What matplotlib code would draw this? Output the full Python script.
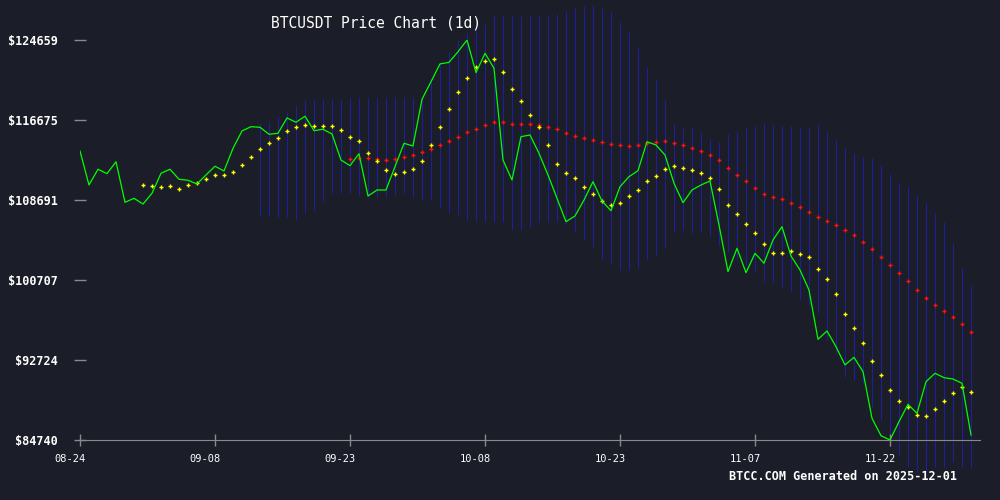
import matplotlib
matplotlib.use("Agg")
import matplotlib.pyplot as plt
import matplotlib.dates as mdates
from matplotlib.transforms import ScaledTranslation
import pandas as pd

# daily closes, 2025-08-24 .. 2025-12-01
close = [113580, 110190, 111760, 111320, 112510, 108460, 108860, 108290, 109360, 111360,
         111760, 110760, 110660, 110290, 111190, 112060, 111590, 113850, 115580, 116010,
         115950, 115250, 115350, 116880, 116450, 117050, 115610, 115750, 115280, 112680,
         112120, 113310, 109090, 109690, 109690, 112020, 114350, 114080, 118740, 120500,
         122270, 122430, 123490, 124659, 121400, 123330, 121840, 112680, 110690, 115010,
         115180, 113350, 111190, 108860, 106530, 107100, 108690, 110520, 108590, 107620,
         110020, 111020, 111620, 114510, 114180, 113180, 110360, 108420, 109690, 110190,
         110590, 106200, 101540, 103870, 101440, 103370, 102380, 104700, 106030, 103100,
         101710, 99710, 94790, 95620, 94050, 92230, 92990, 91560, 86910, 85170,
         84740, 86570, 88300, 87400, 90560, 91400, 90960, 90830, 90400, 85240]

# short moving average (from day 7)
ma_short = [110190, 110090, 109960, 110090, 109760, 110190, 110360, 110760, 111190, 111190,
            111460, 112190, 112950, 113750, 114350, 114880, 115550, 115950, 116150, 116050,
            116050, 116050, 115680, 114950, 114550, 113350, 112550, 111690, 111290, 111460,
            111760, 112550, 114150, 115950, 117740, 119440, 120840, 121940, 122530, 122730,
            121440, 119740, 118540, 117150, 115950, 114150, 112260, 111360, 110860, 109960,
            109260, 108560, 108160, 108360, 109060, 109660, 110560, 111060, 111760, 112060,
            111860, 111660, 111360, 110860, 109760, 108160, 107270, 106270, 105370, 104270,
            103370, 103370, 103570, 103270, 102970, 101780, 100780, 99280, 97290, 95890,
            94390, 92590, 91200, 89700, 88600, 88000, 87210, 87110, 87800, 88600,
            89400, 90000, 89500]

# long moving average (from day 30)
ma_long = [112750, 112850, 112850, 112750, 112650, 112750, 112950, 113150, 113450, 113750,
           114150, 114550, 114950, 115450, 115750, 116150, 116450, 116450, 116250, 116250,
           116250, 116150, 115950, 115750, 115350, 115050, 114850, 114650, 114450, 114250,
           114150, 114050, 114150, 114350, 114450, 114550, 114350, 114150, 113850, 113550,
           113150, 112650, 111860, 111160, 110560, 109860, 109260, 108960, 108760, 108360,
           107960, 107460, 106970, 106570, 106170, 105670, 105170, 104470, 103770, 102970,
           102180, 101380, 100580, 99680, 98880, 98180, 97580, 96990, 96290, 95490]

# band upper / lower (from day 20)
band_upper = [116380, 116580, 116980, 117470, 118170, 118670, 118770, 118770, 118770, 118770,
              118870, 118870, 118870, 118870, 118870, 118970, 118970, 118970, 118970, 120670,
              122170, 123460, 124660, 125360, 125860, 126260, 127160, 127160, 127160, 127060,
              127160, 127160, 127160, 127260, 127550, 127850, 128050, 128150, 127850, 127450,
              126460, 125460, 123860, 121970, 120770, 118670, 116280, 115980, 115980, 115380,
              114780, 114480, 115280, 115480, 115980, 116080, 116380, 116180, 116080, 116080,
              115980, 115980, 116180, 115480, 114680, 113880, 113380, 112980, 112880, 112190,
              111290, 110390, 109990, 109190, 108390, 107390, 106500, 104400, 102010, 100210]
band_lower = [107100, 107100, 107000, 107000, 106700, 107390, 107690, 108490, 109390, 109390,
              109390, 109190, 108990, 108990, 108990, 109190, 109390, 108990, 108690, 108690,
              107990, 107390, 107200, 106700, 106600, 106500, 106500, 106500, 105700, 105700,
              106000, 106500, 106500, 106500, 106300, 105500, 104700, 104000, 102700, 102400,
              101710, 101710, 101910, 102700, 103200, 103900, 105500, 105700, 105400, 105500,
              105100, 104200, 103500, 102800, 102200, 101510, 100510, 100510, 100010, 99510,
              98710, 98210, 97410, 94720, 93420, 91030, 90730, 90430, 88030, 86740,
              84040, 83240, 82050, 81550, 81550, 82050, 82050, 82540, 81950, 81950]

y_ticks = [84740, 92724, 100707, 108691, 116675, 124659]

dates = pd.date_range("2025-08-24", periods=len(close), freq="D")
bg = "#1b1d28"
mono = "DejaVu Sans Mono"

fig = plt.figure(figsize=(10, 5), dpi=100, facecolor=bg)
ax = fig.add_axes([0.08, 0.12, 0.90, 0.80], facecolor=bg)

ax.vlines(dates[20:], band_lower, band_upper, color="#1e1ea0", lw=0.72, zorder=1,
          clip_on=False, snap=True)
ax.plot(dates[30:], ma_long, ls="none", marker="+", ms=3.5, mew=1.0, color="#ff1010",
        zorder=2, antialiased=False)
ax.plot(dates[7:], ma_short, ls="none", marker="+", ms=3.5, mew=1.0, color="#ffff00",
        zorder=2, antialiased=False)
ax.plot(dates, close, color="#00ff00", lw=0.9, zorder=3)

ax.set_xlim(dates[0], dates[0] + pd.Timedelta(days=100))
ax.set_ylim(y_ticks[0], y_ticks[-1])

for s in ["top", "right", "left"]:
    ax.spines[s].set_visible(False)
ax.spines["bottom"].set_color("#8a8a8a")

ax.set_yticks(y_ticks)
ax.set_yticklabels([f"${v}" for v in y_ticks], fontfamily=mono, fontweight="bold", fontsize=8.5)
ax.set_xticks(dates[::15][:7])
ax.xaxis.set_major_formatter(mdates.DateFormatter("%m-%d"))
ax.tick_params(axis="y", colors="#8a8a8a", labelcolor="white", direction="inout", length=8, width=1, pad=12)
ax.tick_params(axis="x", colors="#8a8a8a", labelcolor="white", direction="inout", length=8, width=1, pad=6)
for lab in ax.get_xticklabels():
    lab.set_fontfamily(mono)
    lab.set_fontsize(7.5)
    lab.set_transform(lab.get_transform() + ScaledTranslation(-0.1, 0, fig.dpi_scale_trans))

fig.text(0.376, 0.954, "BTCUSDT Price Chart (1d)", color="white", fontfamily=mono,
         fontsize=10.5, ha="center", va="center")
fig.text(0.729, 0.046, "BTCC.COM Generated on 2025-12-01", color="white", fontfamily=mono,
         fontweight="bold", fontsize=8.5, ha="left", va="center")

fig.savefig("out.png", dpi=100, facecolor=bg)
